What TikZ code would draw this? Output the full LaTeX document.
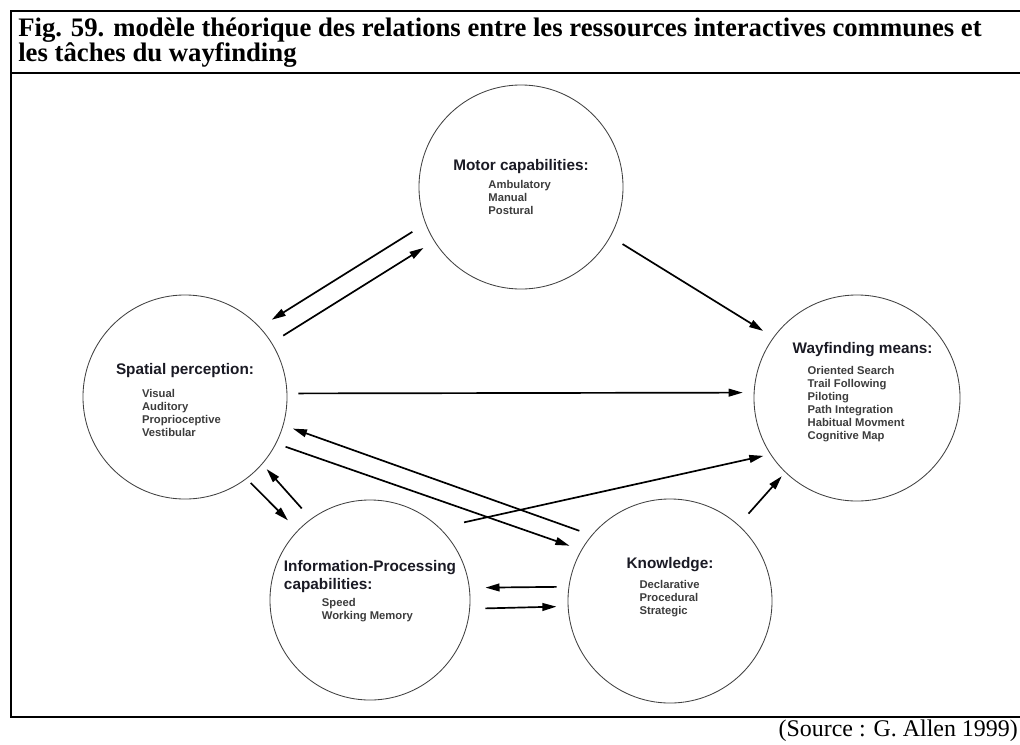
\documentclass[tikz,border=0pt]{standalone}
\usepackage{fontspec}
\setmainfont{Liberation Serif}
\setsansfont{Liberation Sans}
\usetikzlibrary{arrows.meta}
\definecolor{ink}{HTML}{1A1A24}
\definecolor{itemgray}{HTML}{3C3C3C}
\newcommand{\ctitlefont}{\fontsize{10.9}{12}\selectfont}

\begin{document}
\begin{tikzpicture}[x=0.025cm, y=-0.025cm,
  res/.style={circle, draw=black!75, line width=0.6pt, minimum size=5.1cm, inner sep=0pt},
  txt/.style={align=left, inner sep=0pt, text=itemgray, font=\sffamily\bfseries\fontsize{8}{9.2}\selectfont},
  ttl/.style={anchor=base west, inner sep=0pt, font=\bfseries\fontsize{19}{20}\selectfont},
  arr/.style={-{Triangle[length=10pt,width=5.5pt]}, line width=1.2pt}]
\useasboundingbox (0,0) rectangle (1020,744);
% frame and title
\draw[line width=1.7pt] (1030,11) -- (11,11) -- (11,717) -- (1030,717);
\draw[line width=1.7pt] (11,73) -- (1030,73);
\node[ttl] (ttl1) at (18,36) {Fig. 59. modèle théorique des relations entre les ressources interactives communes et};
\node[ttl] (ttl2) at (18,61) {les tâches du wayfinding};
\node[anchor=base east, inner sep=0pt, font=\fontsize{17}{18}\selectfont] (src) at (1018,736) {(Source : G. Allen 1999)};
% the five resources
\node[res] (mot) at (521,187) {};
\node[res] (sp) at (185,397) {};
\node[res, minimum size=5.15cm] (way) at (857,398) {};
\node[res, minimum size=5cm] (info) at (370,600) {};
\node[res] (know) at (670,601) {};
% texts
\node[txt] (mot-t) at (mot) {{\color{ink}\ctitlefont Motor capabilities:}\\[3pt]
  \hspace*{25pt}Ambulatory\\\hspace*{25pt}Manual\\\hspace*{25pt}Postural};
\node[txt, yshift=-2pt] (sp-t) at (sp) {{\color{ink}\ctitlefont Spatial perception:}\\[7pt]
  \hspace*{18.5pt}Visual\\\hspace*{18.5pt}Auditory\\\hspace*{18.5pt}Proprioceptive\\\hspace*{18.5pt}Vestibular};
\node[txt, xshift=4pt, yshift=4.3pt] (way-t) at (way) {{\color{ink}\ctitlefont Wayfinding means:}\\[6pt]
  \hspace*{10.7pt}Oriented Search\\\hspace*{10.7pt}Trail Following\\\hspace*{10.7pt}Piloting\\
  \hspace*{10.7pt}Path Integration\\\hspace*{10.7pt}Habitual Movment\\\hspace*{10.7pt}Cognitive Map};
\node[txt, yshift=6.2pt] (info-t) at (info) {{\color{ink}\ctitlefont Information-Processing}\\[1.5pt]
  {\color{ink}\ctitlefont capabilities:}\\[3pt]
  \hspace*{27pt}Speed\\\hspace*{27pt}Working Memory};
\node[txt, yshift=9.6pt] (know-t) at (know) {{\color{ink}\ctitlefont Knowledge:}\\[5pt]
  \hspace*{9.2pt}Declarative\\\hspace*{9.2pt}Procedural\\\hspace*{9.2pt}Strategic};
% relations
\draw[arr, shorten <=10.9pt, shorten >=9.9pt] (mot.201) -- (sp.43);
\draw[arr, shorten <=9.5pt, shorten >=8.9pt] (sp.32) -- (mot.212);
\draw[arr, shorten <=10pt, shorten >=8.5pt] (mot.331.5) -- (way.144.6);
\draw[arr, shorten <=7.8pt, shorten >=7.8pt] (sp.2) -- (way.177);
\draw[arr, shorten <=9.2pt, shorten >=7.1pt] (know.140) -- (sp.344.5);
\draw[arr, shorten <=7pt, shorten >=8.9pt] (sp.333.4) -- (know.150.8);
\draw[arr, shorten <=17.7pt, shorten >=5pt] (info.46.6) -- (way.213.2);
\draw[arr, shorten <=10.7pt, shorten >=3.6pt] (know.48.8) -- (way.226.1);
\draw[arr, shorten <=4.1pt, shorten >=9.9pt] (sp.307.1) -- (info.136.8);
\draw[arr, shorten <=9.8pt, shorten >=4.6pt] (info.126.1) -- (sp.319.1);
\draw[arr, shorten <=8.5pt, shorten >=11.2pt] (know.172.1) -- (info.7.5);
\draw[arr, shorten <=10.9pt, shorten >=8pt] (info.355.4) -- (know.183.9);
\end{tikzpicture}
\end{document}
